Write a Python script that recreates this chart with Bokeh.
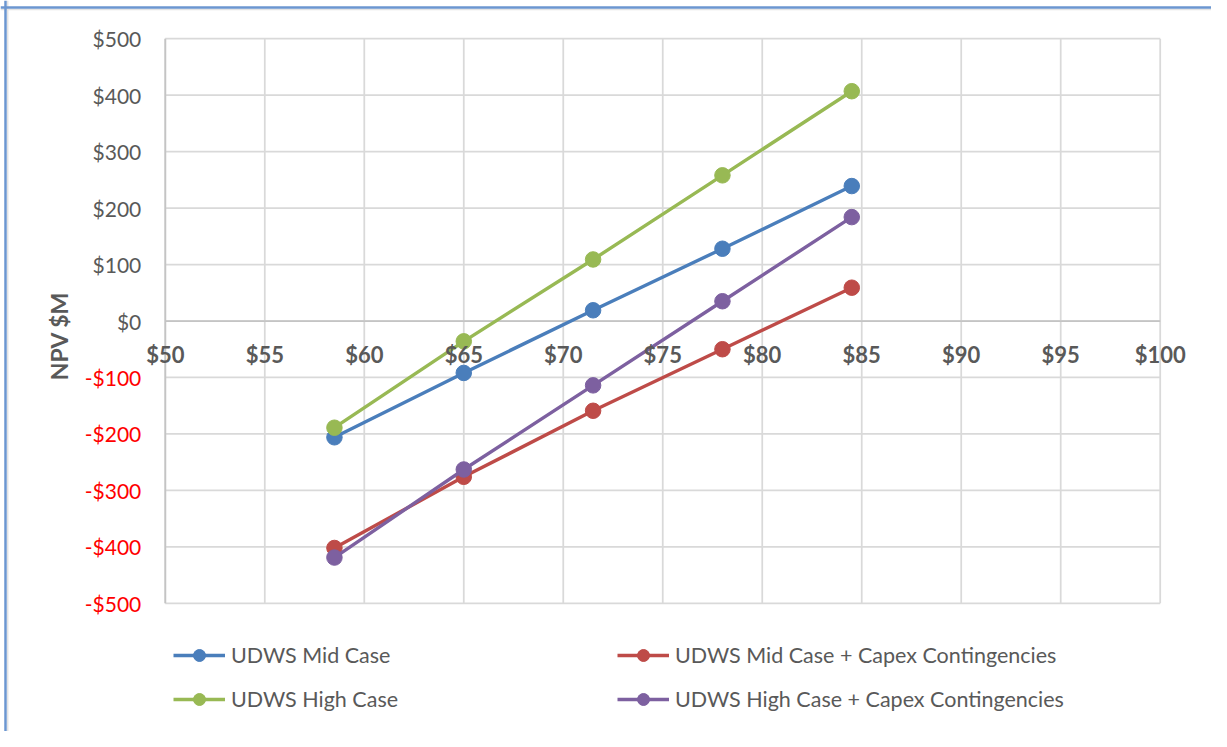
from bokeh.plotting import figure
from bokeh.models import (LinearAxis, FixedTicker, CustomJSTickFormatter, Legend,
                          LegendItem, Range1d, Span)
from bokeh.embed import file_html
from bokeh.resources import INLINE

# ---- data ----
oil_price = [58.5, 65, 71.5, 78, 84.5]
mid_case = [-206, -92, 19, 128, 239]
mid_case_capex = [-402, -276, -159, -50, 59]
high_case = [-189, -36, 109, 258, 407]
high_case_capex = [-419, -263, -114, 35, 184]

series_names = ["UDWS Mid Case", "UDWS Mid Case + Capex Contingencies",
                "UDWS High Case", "UDWS High Case + Capex Contingencies"]
x_ticks = [50, 55, 60, 65, 70, 75, 80, 85, 90, 95, 100]
y_ticks_pos = [0, 100, 200, 300, 400, 500]
y_ticks_neg = [-500, -400, -300, -200, -100]
y_title = "NPV $M"
x_axis_cross = 0

colors = ["#4a7ebb", "#be4b48", "#98b954", "#7d60a0"]
FONT = "Lato"
GRAY = "#595959"
GRID = "#d9d9d9"
AXIS = "#c4c4c4"

# ---- layout (pixels inside the figure) ----
W, H = 1211, 731
PL, PR, PT, PB = 164.8, 1159.7, 38.2, 602.8
TITLE_CY = 335.7
y_ticks = y_ticks_neg + y_ticks_pos
xmin, xmax = min(x_ticks), max(x_ticks)
ymin, ymax = min(y_ticks), max(y_ticks)
kx = (PR - PL) / (xmax - xmin)
ky = (PB - PT) / (ymax - ymin)
x_rng = Range1d(xmin - PL / kx, xmax + (W - PR) / kx)
y_rng = Range1d(ymin - (H - PB) / ky, ymax + PT / ky)


def px_x(px):
    return x_rng.start + px / kx


def px_y(py):
    return y_rng.end - py / ky


fmt = CustomJSTickFormatter(code="return (tick < 0 ? '-' : '') + '$' + Math.abs(tick);")

p = figure(width=W, height=H, x_range=x_rng, y_range=y_rng,
           output_backend="svg", toolbar_location=None, min_border=0,
           background_fill_color="white", border_fill_color="white")
p.outline_line_color = None
p.xgrid.visible = False
p.ygrid.visible = False

# chart border (left and top edges)
p.add_layout(Span(location=px_x(7.2), dimension="height", line_color="#e3e3e3", line_width=1.5))
p.add_layout(Span(location=px_y(9.0), dimension="width", line_color="#e3e3e3", line_width=1.5))
p.add_layout(Span(location=px_x(5.0), dimension="height", line_color="#6b96d0", line_width=2.5))
p.add_layout(Span(location=px_y(6.9), dimension="width", line_color="#6b96d0", line_width=2.5))

# grid lines limited to the plot area
p.segment(x0=x_ticks, y0=[ymin] * len(x_ticks), x1=x_ticks, y1=[ymax] * len(x_ticks),
          line_color=GRID, line_width=1.75)
p.segment(x0=[xmin] * len(y_ticks), y0=y_ticks, x1=[xmax] * len(y_ticks), y1=y_ticks,
          line_color=GRID, line_width=1.75)
# axis lines
p.segment(x0=[xmin], y0=[ymin], x1=[xmin], y1=[ymax], line_color=AXIS, line_width=1.75)
p.segment(x0=[xmin], y0=[x_axis_cross], x1=[xmax], y1=[x_axis_cross], line_color=AXIS, line_width=1.75)


def style_axis(ax, size="21px", color=GRAY, bold=False, standoff=24):
    ax.major_tick_in = 0
    ax.major_tick_out = 0
    ax.minor_tick_in = 0
    ax.minor_tick_out = 0
    ax.axis_line_color = None
    ax.major_label_text_font = FONT
    ax.major_label_text_font_size = size
    ax.major_label_text_color = color
    if bold:
        ax.major_label_text_font_style = "bold"
    ax.major_label_standoff = standoff


# x axis crossing at y=0
xa = p.xaxis[0]
xa.fixed_location = x_axis_cross
xa.ticker = FixedTicker(ticks=x_ticks)
xa.formatter = fmt
style_axis(xa, size="22px", bold=True, standoff=20)

# y axis: negative labels in red, with the title
title_c = px_y(TITLE_CY)
ya = p.yaxis[0]
ya.fixed_location = xmin
ya.bounds = (2 * title_c - ymax, ymax)
ya.ticker = FixedTicker(ticks=y_ticks_neg)
ya.formatter = fmt
style_axis(ya, color="#ff0000")
ya.axis_label = y_title
ya.axis_label_text_font = FONT
ya.axis_label_text_font_size = "23px"
ya.axis_label_text_font_style = "bold"
ya.axis_label_text_color = GRAY
ya.axis_label_standoff = 9

# y axis: non-negative labels in gray
ya2 = LinearAxis(ticker=FixedTicker(ticks=y_ticks_pos), formatter=fmt, fixed_location=xmin)
style_axis(ya2)
p.add_layout(ya2, "left")

series = [mid_case, mid_case_capex, high_case, high_case_capex]
items = []
for name, ys, c in zip(series_names, series, colors):
    rl = p.line(oil_price, ys, line_color=c, line_width=3.4)
    rs = p.scatter(oil_price, ys, size=15.5, fill_color=c, line_color=c)
    items.append(LegendItem(label=name, renderers=[rl, rs]))


def make_legend(its, loc):
    lg = Legend(items=its, location=loc, orientation="vertical")
    lg.label_text_font = FONT
    lg.label_text_font_size = "21.5px"
    lg.label_text_color = GRAY
    lg.glyph_width = 52
    lg.glyph_height = 30
    lg.label_height = 30
    lg.label_standoff = 6
    lg.spacing = 14
    lg.padding = 0
    lg.margin = 0
    lg.border_line_color = None
    lg.background_fill_alpha = 0
    return lg


p.add_layout(make_legend([items[0], items[2]], (173, 17)), "center")
p.add_layout(make_legend([items[1], items[3]], (617, 17)), "center")

open("out.html", "w").write(file_html(p, INLINE))
